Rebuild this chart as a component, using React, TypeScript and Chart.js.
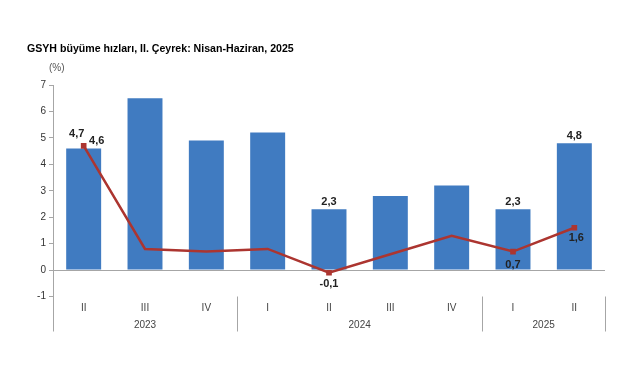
import React, { useEffect, useRef } from "react";
import { Chart, registerables } from "chart.js";

Chart.register(...registerables);

const titleText = "GSYH büyüme hızları, II. Çeyrek: Nisan-Haziran, 2025";
const unitText = "(%)";
const quarters = ["II", "III", "IV", "I", "II", "III", "IV", "I", "II"];
const yearLabels = ["2023", "2024", "2025"];
const yearSpans = [3, 4, 2];
const annualGrowth = [4.6, 6.5, 4.9, 5.2, 2.3, 2.8, 3.2, 2.3, 4.8];
const quarterlyGrowth = [4.7, 0.8, 0.7, 0.8, -0.1, 0.6, 1.3, 0.7, 1.6];
const barLabelShown = [true, false, false, false, true, false, false, true, true];
const lineLabelShown = [true, false, false, false, true, false, false, true, true];
const yTicks = [-1, 0, 1, 2, 3, 4, 5, 6, 7];

const BAR_COLOR = "#407BC1";
const LINE_COLOR = "#AC3530";
const AXIS_COLOR = "#A6A6A6";
const FONT = "Liberation Sans, Arial, sans-serif";

const fmt = (v: number) => v.toFixed(1).replace(".", ",");

const decorPlugin = {
  id: "decor",
  beforeDatasetsDraw(chart: any) {
    const { ctx, chartArea, scales } = chart;
    const y0 = scales.y.getPixelForValue(0);
    ctx.save();
    ctx.strokeStyle = AXIS_COLOR;
    ctx.lineWidth = 1;
    ctx.beginPath();
    ctx.moveTo(chartArea.left, Math.round(y0) + 0.5);
    ctx.lineTo(chartArea.right, Math.round(y0) + 0.5);
    ctx.stroke();
    ctx.restore();
  },
  afterDraw(chart: any) {
    const { ctx, chartArea, scales } = chart;
    const x = scales.x;
    ctx.save();
    // title
    ctx.fillStyle = "#000";
    ctx.font = `bold 10.6px ${FONT}`;
    ctx.textBaseline = "middle";
    ctx.textAlign = "left";
    ctx.fillText(titleText, 27, 49.5);
    ctx.fillStyle = "#555";
    ctx.font = `10px ${FONT}`;
    ctx.fillText(unitText, 49, 68.5);

    // separators and year labels
    const step = x.getPixelForValue(1) - x.getPixelForValue(0);
    const top = chartArea.bottom;
    const bottom = chartArea.bottom + 35;
    ctx.strokeStyle = AXIS_COLOR;
    ctx.lineWidth = 1;
    let idx = 0;
    const bounds: number[] = [chartArea.left];
    yearSpans.forEach((span) => {
      idx += span;
      bounds.push(x.getPixelForValue(idx - 1) + step / 2);
    });
    bounds.forEach((b) => {
      const px = Math.round(b) + 0.5;
      ctx.beginPath();
      ctx.moveTo(px, top);
      ctx.lineTo(px, bottom);
      ctx.stroke();
    });
    ctx.fillStyle = "#444";
    ctx.font = `10px ${FONT}`;
    ctx.textAlign = "center";
    yearLabels.forEach((lab, i) => {
      ctx.fillText(lab, (bounds[i] + bounds[i + 1]) / 2, chartArea.bottom + 29);
    });

    // data labels
    ctx.fillStyle = "#222";
    ctx.font = `bold 11px ${FONT}`;
    const barMeta = chart.getDatasetMeta(1);
    barMeta.data.forEach((el: any, i: number) => {
      if (!barLabelShown[i]) return;
      const dx = i === 0 ? 13 : 0;
      ctx.fillText(fmt(annualGrowth[i]), el.x + dx, el.y - 7);
    });
    const lineMeta = chart.getDatasetMeta(0);
    lineMeta.data.forEach((el: any, i: number) => {
      if (!lineLabelShown[i]) return;
      let dx = 0;
      let dy = 11;
      if (i === 0) {
        dx = -7;
        dy = -12;
      } else if (i === 7) {
        dy = 13;
      } else if (i === 8) {
        dx = 2;
        dy = 10;
      }
      ctx.fillText(fmt(quarterlyGrowth[i]), el.x + dx, el.y + dy);
    });
    ctx.restore();
  },
};

export default function App() {
  const ref = useRef<HTMLCanvasElement | null>(null);
  useEffect(() => {
    if (!ref.current) return;
    const chart = new Chart(ref.current, {
      type: "bar",
      data: {
        labels: quarters,
        datasets: [
          {
            type: "line",
            label: "Çeyreklik",
            data: quarterlyGrowth,
            borderColor: LINE_COLOR,
            backgroundColor: LINE_COLOR,
            borderWidth: 2.5,
            pointStyle: "rect",
            pointRadius: lineLabelShown.map((s) => (s ? 4 : 0)),
            pointBackgroundColor: LINE_COLOR,
            pointBorderColor: LINE_COLOR,
            pointBorderWidth: 0,
            tension: 0,
            order: 0,
          } as any,
          {
            type: "bar",
            label: "Yıllık",
            data: annualGrowth,
            backgroundColor: BAR_COLOR,
            borderWidth: 0,
            categoryPercentage: 1,
            barPercentage: 0.57,
            order: 1,
          },
        ],
      },
      options: {
        animation: false,
        responsive: true,
        maintainAspectRatio: false,
        layout: { padding: { left: 0, top: 85, right: 36, bottom: 0 } },
        plugins: {
          legend: { display: false },
          tooltip: { enabled: false },
          title: { display: false },
        },
        scales: {
          x: {
            grid: { display: false },
            border: { display: false },
            ticks: {
              color: "#444",
              font: { family: FONT, size: 10 },
              padding: -2,
              maxRotation: 0,
            },
            afterFit: (s: any) => {
              s.height = 83.5;
            },
          },
          y: {
            min: -1,
            max: 7,
            afterBuildTicks: (s: any) => {
              s.ticks = yTicks.map((v) => ({ value: v }));
            },
            grid: {
              drawOnChartArea: false,
              drawTicks: true,
              tickLength: 4,
              color: AXIS_COLOR,
            },
            border: { display: true, color: AXIS_COLOR },
            ticks: {
              color: "#333",
              font: { family: FONT, size: 10 },
              padding: 3,
            },
            afterFit: (s: any) => {
              s.width = 53;
            },
          },
        },
      },
      plugins: [decorPlugin],
    });
    return () => chart.destroy();
  }, []);
  return (
    <div style={{ position: "absolute", left: 0, top: 0, width: 641, height: 380, background: "#fff" }}>
      <canvas ref={ref} />
    </div>
  );
}
